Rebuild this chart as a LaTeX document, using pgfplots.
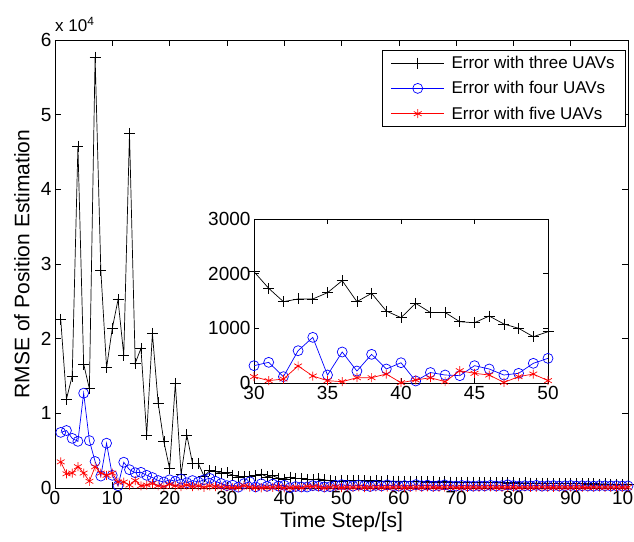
\documentclass[border=0pt]{standalone}
\usepackage{fontspec}
\setmainfont{Liberation Sans}
\usepackage{pgfplots}
\usepackage{pgfplotstable}
\pgfplotsset{compat=1.18}

\pgfplotstableread{
x a b c
1 22600 7450 3500
2 11900 7700 1900
3 15000 6650 2000
4 45800 6250 2850
5 16600 12700 2000
6 13300 6350 900
7 57700 3550 2850
8 29100 1600 2000
9 16100 6000 1700
10 21400 1700 2000
11 25200 300 800
12 17800 3450 800
13 47500 2450 400
14 16700 2050 1000
15 18700 2100 300
16 7100 1700 400
17 20700 1400 600
18 11400 1000 300
19 6200 800 200
20 2600 1100 500
21 14000 900 300
22 1800 1200 200
23 7100 700 400
24 3300 1000 200
25 3300 800 300
26 1600 1100 100
27 2300 1300 300
28 2200 900 200
29 2000 600 150
30 2036 317 116
31 1732 378 43
32 1488 116 73
33 1537 591 311
34 1537 835 128
35 1652 146 43
36 1872 567 24
37 1488 219 97
38 1640 524 97
39 1317 256 164
40 1195 371 5
41 1457 37 55
42 1290 192 97
43 1290 146 24
44 1121 134 225
45 1103 317 177
46 1225 256 146
47 1079 146 10
48 1000 177 116
49 847 360 164
50 938 451 43
51 980 350 120
52 1010 250 80
53 960 400 150
54 990 300 60
55 930 200 100
56 960 350 130
57 900 280 70
58 940 420 110
59 880 300 90
60 920 250 140
61 860 330 60
62 890 270 100
63 840 450 120
64 870 300 80
65 820 380 150
66 850 250 90
67 800 320 70
68 830 420 110
69 780 290 130
70 800 260 60
71 760 340 100
72 780 300 90
73 740 250 120
74 760 310 80
75 720 280 110
76 740 350 140
77 700 270 70
78 720 300 100
79 680 430 90
80 700 320 120
81 660 260 60
82 680 300 110
83 640 280 80
84 660 350 100
85 620 250 130
86 640 300 90
87 600 320 70
88 620 270 110
89 580 290 100
90 600 330 80
91 560 260 120
92 580 300 90
93 540 280 60
94 560 250 100
95 520 310 110
96 540 290 80
97 500 270 90
98 520 300 120
99 480 260 70
100 500 280 100
}\data

\begin{document}
\begin{tikzpicture}[x=1pt,y=1pt]
\useasboundingbox (0,0) rectangle (634,541);
\begin{axis}[
  at={(55pt,53pt)}, anchor=south west,
  scale only axis, width=573pt, height=448pt,
  xmin=0, xmax=100, ymin=0, ymax=60000,
  xtick={0,10,...,100},
  ytick={0,10000,20000,30000,40000,50000,60000},
  yticklabels={0,1,2,3,4,5,6},
  scaled y ticks=false, scaled x ticks=false,
  /pgf/number format/assume math mode=true,
  /pgf/number format/1000 sep={},
  tick label style={font=\fontsize{19}{22}\selectfont},
  label style={font=\fontsize{21}{24}\selectfont},
  xlabel={Time Step/[s]},
  ylabel={RMSE of Position Estimation},
  ylabel style={at={(axis description cs:-0.0576,0.5)}, anchor=center},
  major tick length=6pt,
  axis line style={line width=0.6pt},
  every tick/.style={line width=0.6pt, black},
  clip mode=individual,
  legend image code/.code={\draw[mark repeat=2,mark phase=2,#1] plot coordinates {(0pt,0pt) (26.5pt,0pt) (53pt,0pt)};},
  legend style={at={(0.9965,0.978)}, anchor=north east,
    font=\fontsize{17}{20}\selectfont, draw=black, line width=0.6pt,
    row sep=7.5pt, column sep=5pt, inner xsep=9pt, inner ysep=4pt},
  legend cell align=left,
]
\addplot[black, line width=0.7pt, mark=+, mark size=5.5pt, mark options={solid}] table[x=x,y=a] {\data};
\addlegendentry{Error with three UAVs}
\addplot[blue, line width=0.7pt, mark=o, mark size=5pt, mark options={solid}] table[x=x,y=b] {\data};
\addlegendentry{Error with four UAVs}
\addplot[red, line width=0.7pt, mark=asterisk, mark size=4.5pt, mark options={solid}] table[x=x,y=c] {\data};
\addlegendentry{Error with five UAVs}
\node[anchor=south west, font=\fontsize{17}{20}\selectfont, inner sep=0pt] at (axis description cs:0,1) [yshift=8pt] {x 10\textsuperscript{4}};
\end{axis}
\begin{axis}[
  at={(254pt,158pt)}, anchor=south west,
  scale only axis, width=294pt, height=164pt,
  xmin=30, xmax=50, ymin=0, ymax=3000,
  xtick={30,35,40,45,50},
  ytick={0,1000,2000,3000},
  scaled y ticks=false, scaled x ticks=false,
  /pgf/number format/assume math mode=true,
  /pgf/number format/1000 sep={},
  tick label style={font=\fontsize{19}{22}\selectfont},
  major tick length=5pt,
  axis line style={line width=0.6pt},
  every tick/.style={line width=0.6pt, black},
  axis background/.style={fill=white},
  clip mode=individual,
  restrict x to domain=30:50,
]
\addplot[black, line width=0.7pt, mark=+, mark size=5.5pt, mark options={solid}] table[x=x,y=a] {\data};
\addplot[blue, line width=0.7pt, mark=o, mark size=5pt, mark options={solid}] table[x=x,y=b] {\data};
\addplot[red, line width=0.7pt, mark=asterisk, mark size=4.5pt, mark options={solid}] table[x=x,y=c] {\data};
\end{axis}
\end{tikzpicture}
\end{document}
